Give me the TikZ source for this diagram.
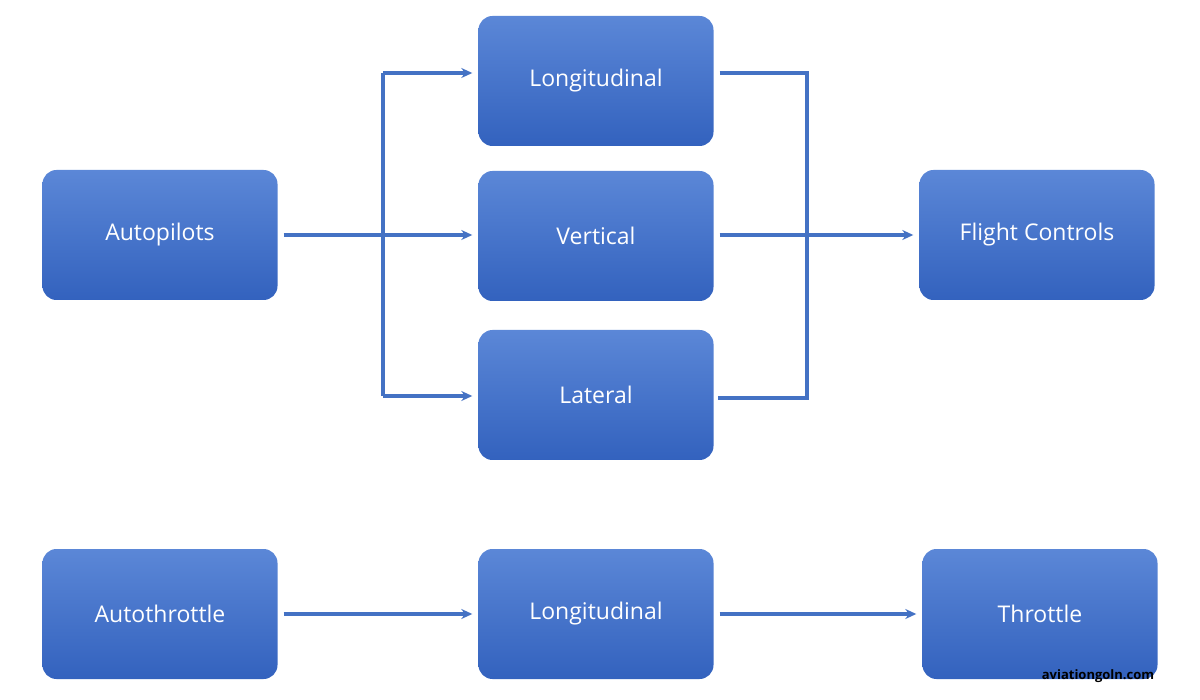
\documentclass[tikz,border=0pt]{standalone}
\usepackage{fontspec}
\setmainfont{Open Sans}
\usetikzlibrary{arrows.meta}
\definecolor{ln}{HTML}{4472C4}
\definecolor{btop}{HTML}{5B87D7}
\definecolor{bbot}{HTML}{3362BE}
\begin{document}
\begin{tikzpicture}[x=1pt,y=-1pt,
  blk/.style={rounded corners=14pt,top color=btop,bottom color=bbot,draw=none,
    minimum width=235pt,minimum height=130pt,text=white,font=\fontsize{23}{26}\selectfont},
  con/.style={draw=ln,line width=3.2pt,-{Stealth[length=11pt,width=10pt]}},
  lin/.style={draw=ln,line width=3.2pt}]
\useasboundingbox (0,0) rectangle (1200,700);
\node[blk] (ap) at (160,235) {Autopilots};
\node[blk] (lo) at (596,81) {Longitudinal};
\node[blk] (ve) at (596,236) {Vertical};
\node[blk] (la) at (596,395) {Lateral};
\node[blk] (fc) at (1037,235) {Flight Controls};
\node[blk] (at) at (160,614) {Autothrottle};
\node[blk] (lo2) at (596,614) {Longitudinal};
\node[blk] (th) at (1040,614) {Throttle};
\coordinate (b1) at (383,73);
\coordinate (b2) at (383,396);
\coordinate (r1) at (807,73);
\coordinate (r2) at (807,398);
\draw[con] ([xshift=6pt]ap.east) -- ([xshift=-6pt]ve.west|-ap.east);
\draw[lin] (b1) -- (b2);
\draw[con] (b1) -- ([xshift=-6pt]lo.west|-b1);
\draw[con] (b2) -- ([xshift=-6pt]la.west|-b2);
\draw[lin] ([xshift=6pt]lo.east|-r1) -- (r1) -- (r2) -- ([xshift=4pt]la.east|-r2);
\draw[con] ([xshift=6pt]ve.east|-fc.west) -- ([xshift=-6pt]fc.west);
\draw[con] ([xshift=6pt]at.east) -- ([xshift=-6pt]lo2.west);
\draw[con] ([xshift=6pt]lo2.east) -- ([xshift=-6pt]th.west);
\node[font=\bfseries\fontsize{13}{15}\selectfont,text=black] (wm) at (1098,676) {aviationgoln.com};
\end{tikzpicture}
\end{document}
